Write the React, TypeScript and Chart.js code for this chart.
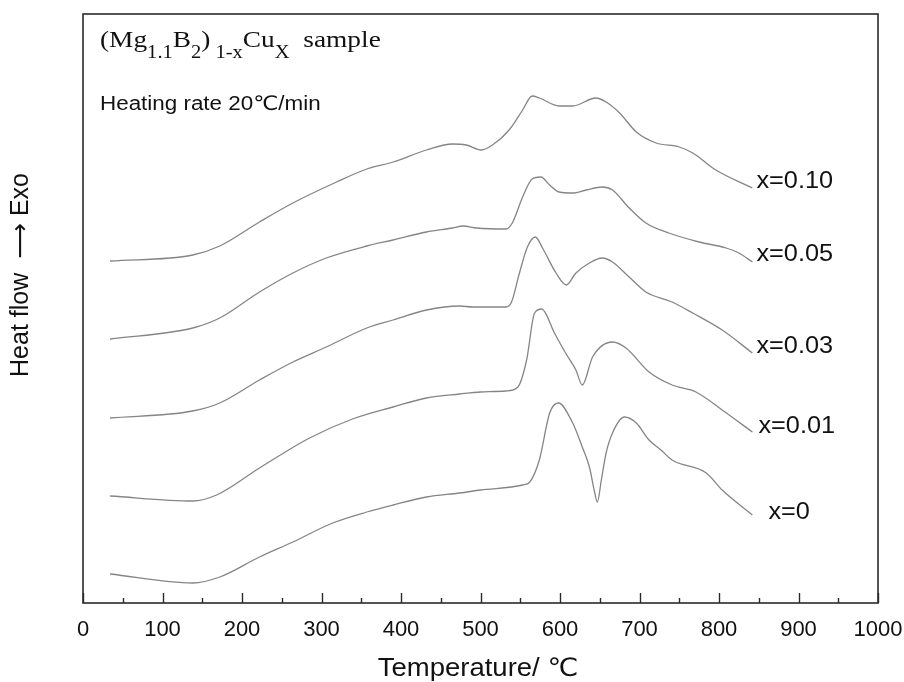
import React, { useEffect, useRef } from "react";
import { Chart, registerables } from "chart.js";

Chart.register(...registerables);

// ---- data (temperature in °C, heat flow in arbitrary offset units) ----
const seriesNames = ["x=0", "x=0.01", "x=0.03", "x=0.05", "x=0.10"];

const temp0 = [34, 138, 172, 222, 264, 314, 357, 390, 432, 474, 500, 553, 562, 574, 587, 598, 616, 628, 637, 643, 647, 652, 658, 666, 681, 696, 712, 727, 741, 784, 804, 842];
const heat0 = [29, 20, 26, 46, 61, 80, 91, 98, 106, 110, 113, 118, 121, 143, 190, 200, 180, 156, 136, 113, 101, 123, 150, 170, 186, 180, 163, 153, 143, 130, 113, 88];

const temp1 = [34, 138, 168, 222, 285, 339, 390, 432, 474, 500, 532, 547, 558, 568, 577, 593, 607, 620, 628, 641, 666, 683, 712, 741, 771, 804, 842];
const heat1 = [107, 102, 108, 135, 165, 184, 196, 205, 209, 211, 212, 216, 243, 290, 294, 270, 250, 233, 218, 246, 261, 255, 231, 218, 211, 193, 171];

const temp3 = [34, 138, 172, 222, 264, 306, 357, 390, 432, 474, 490, 532, 539, 549, 559, 569, 578, 595, 608, 620, 637, 653, 666, 687, 708, 741, 767, 804, 842];
const heat3 = [185, 192, 200, 223, 241, 256, 275, 283, 293, 297, 296, 296, 301, 330, 356, 366, 355, 330, 318, 330, 340, 345, 341, 326, 311, 301, 290, 273, 250];

const temp5 = [34, 138, 172, 222, 264, 306, 357, 390, 432, 465, 478, 495, 532, 540, 553, 565, 576, 587, 599, 616, 633, 653, 666, 687, 708, 737, 775, 809, 825, 842];
const heat5 = [264, 275, 285, 311, 330, 345, 357, 363, 371, 375, 377, 375, 374, 380, 406, 424, 426, 418, 411, 410, 413, 416, 413, 395, 380, 370, 361, 355, 350, 341];

const temp10 = [34, 138, 172, 222, 264, 319, 357, 390, 432, 465, 482, 501, 515, 536, 553, 565, 574, 599, 616, 645, 658, 675, 696, 721, 750, 767, 796, 842];
const heat10 = [342, 348, 357, 381, 400, 421, 434, 441, 453, 459, 458, 453, 458, 473, 493, 507, 505, 497, 497, 505, 501, 490, 471, 460, 456, 450, 433, 415];

const xTickValues = [0, 100, 200, 300, 400, 500, 600, 700, 800, 900, 1000];
const xTickLabels = ["0", "100", "200", "300", "400", "500", "600", "700", "800", "900", "1000"];

const temps = [temp0, temp1, temp3, temp5, temp10];
const heats = [heat0, heat1, heat3, heat5, heat10];

// label offsets from each curve's end point (pixels)
const labelOffsets = [
  [16, -2],
  [6, -5],
  [4, -6],
  [4, -7],
  [4, -6],
];

const SANS = '"Liberation Sans", Arial, "DejaVu Sans", sans-serif';
const SERIF = '"Liberation Serif", "Times New Roman", serif';

function stretchText(ctx: CanvasRenderingContext2D, text: string, x: number, y: number, sx: number) {
  ctx.save();
  ctx.translate(x, y);
  ctx.scale(sx, 1);
  ctx.fillText(text, 0, 0);
  ctx.restore();
  return ctx.measureText(text).width * sx;
}

const decorPlugin = {
  id: "decor",
  afterDraw(chart: any) {
    const { ctx, chartArea } = chart;
    const xs = chart.scales.x;
    const { left, right, top, bottom } = chartArea;
    ctx.save();
    // frame
    ctx.strokeStyle = "#2a2a2a";
    ctx.lineWidth = 1.6;
    ctx.strokeRect(left, top, right - left, bottom - top);
    // inward ticks on bottom axis
    ctx.lineWidth = 1.4;
    for (let v = 0; v <= 1000; v += 50) {
      const px = Math.round(xs.getPixelForValue(v)) + 0.5;
      const len = v % 100 === 0 ? 10 : 5;
      ctx.beginPath();
      ctx.moveTo(px, bottom);
      ctx.lineTo(px, bottom - len);
      ctx.stroke();
    }

    ctx.fillStyle = "#111";

    // x tick labels
    ctx.font = `22px ${SANS}`;
    ctx.textAlign = "center";
    ctx.textBaseline = "alphabetic";
    xTickValues.forEach((v, i) => {
      ctx.fillText(xTickLabels[i], xs.getPixelForValue(v), bottom + 33);
    });

    // series labels
    ctx.font = `23px ${SANS}`;
    ctx.textAlign = "left";
    ctx.textBaseline = "middle";
    chart.data.datasets.forEach((ds: any, i: number) => {
      const meta = chart.getDatasetMeta(i);
      const last = meta.data[meta.data.length - 1];
      const [dx, dy] = labelOffsets[i];
      stretchText(ctx, ds.label, last.x + dx, last.y + dy, 1.1);
    });

    // formula title
    const parts: [string, boolean][] = [
      ["(Mg", false],
      ["1.1", true],
      ["B", false],
      ["2", true],
      [")", false],
      [" 1-x", true],
      ["Cu", false],
      ["X", true],
      ["  sample", false],
    ];
    let cx = 100;
    ctx.textBaseline = "alphabetic";
    for (const [t, sub] of parts) {
      ctx.font = sub ? `18px ${SERIF}` : `24px ${SERIF}`;
      cx += stretchText(ctx, t, cx, sub ? 58 : 47, 1.14);
    }

    // heating rate
    ctx.font = `20px ${SANS}`;
    ctx.textBaseline = "middle";
    stretchText(ctx, "Heating rate 20\u2103/min", 100, 104, 1.12);

    // x axis title
    ctx.font = `25px ${SANS}`;
    ctx.textAlign = "center";
    stretchText(ctx, "Temperature/ \u2103", 478, 669, 1.1);

    // y axis title
    ctx.translate(21, 275);
    ctx.rotate(-Math.PI / 2);
    ctx.fillText("Heat flow  \u27F6 Exo", 0, 0);
    ctx.restore();
  },
};

export default function App() {
  const ref = useRef<HTMLCanvasElement | null>(null);
  useEffect(() => {
    if (!ref.current) return;
    const datasets = seriesNames.map((name, i) => ({
      label: name,
      data: temps[i].map((t, j) => ({ x: t, y: heats[i][j] })),
      borderColor: "#858585",
      borderWidth: 1.3,
      pointRadius: 0,
      fill: false,
      cubicInterpolationMode: "monotone" as const,
    }));
    const chart = new Chart(ref.current, {
      type: "line",
      data: { datasets },
      options: {
        animation: false,
        responsive: true,
        maintainAspectRatio: false,
        layout: { padding: { top: 14, right: 26, left: 0, bottom: 0 } },
        plugins: {
          legend: { display: false },
          tooltip: { enabled: false },
        },
        scales: {
          x: {
            type: "linear",
            min: 0,
            max: 1000,
            ticks: { display: false, stepSize: 100 },
            grid: { display: false, drawTicks: false },
            border: { display: false },
            afterFit: (scale: any) => {
              scale.height = 79;
            },
          },
          y: {
            type: "linear",
            min: 0,
            max: 589,
            ticks: { display: false },
            grid: { display: false, drawTicks: false },
            border: { display: false },
            afterFit: (scale: any) => {
              scale.width = 83;
            },
          },
        },
      },
      plugins: [decorPlugin],
    });
    return () => chart.destroy();
  }, []);

  return (
    <div style={{ position: "absolute", left: 0, top: 0, width: 904, height: 682, background: "#fff" }}>
      <canvas ref={ref} />
    </div>
  );
}
